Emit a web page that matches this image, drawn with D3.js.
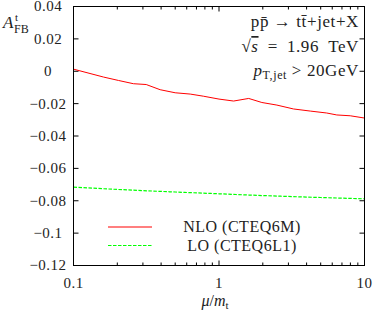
<!DOCTYPE html>
<html>
<head>
<meta charset="utf-8">
<script src="https://cdn.jsdelivr.net/npm/d3@7"></script>
<style>
body { margin: 0; background: #fff; }
svg text { font-family: "Liberation Serif", serif; fill: #222; }
</style>
</head>
<body>
<svg id="chart" width="374" height="312"></svg>
<script>
// scale values mu/m_t
var nloMu = [0.1, 0.161, 0.204, 0.258, 0.316, 0.394, 0.5, 0.634, 0.78, 1.0, 1.26, 1.6, 1.97, 2.5, 3.25, 4.24, 5.5, 6.45, 7.98, 10];
var nloAfb = [0.0013, -0.0036, -0.0057, -0.0077, -0.0082, -0.0114, -0.0133, -0.0141, -0.0154, -0.0172, -0.0184, -0.0168, -0.0193, -0.0209, -0.0233, -0.0246, -0.0258, -0.0270, -0.0275, -0.0289];

var loMu = [0.1, 0.2, 0.5, 1, 2, 5, 10];
var loAfb = [-0.0716, -0.0730, -0.0746, -0.0757, -0.0768, -0.0780, -0.0788];

var yTicks = [0.04, 0.02, 0, -0.02, -0.04, -0.06, -0.08, -0.1, -0.12];
var yTickLabels = ['0.04', '0.02', '0', '\u22120.02', '\u22120.04', '\u22120.06', '\u22120.08', '\u22120.1', '\u22120.12'];
var xTicks = [0.1, 1, 10];
var xTickLabels = ['0.1', '1', '10'];
var xMinor = [0.2, 0.3, 0.4, 0.5, 0.6, 0.7, 0.8, 0.9, 2, 3, 4, 5, 6, 7, 8, 9];

var pl = 73.5, pr = 364.5, pt = 6.5, pb = 265.5;
var svg = d3.select('#chart');

var x = d3.scaleLog().domain([0.1, 10]).range([pl, pr]);
var y = d3.scaleLinear().domain([-0.12, 0.04]).range([pb, pt]);

// ticks on all four sides, pointing in
function tickLines(g, vals, len, horiz)
{
    vals.forEach(function(v)
    {
        if (horiz)
        {
            g.append('line').attr('x1', x(v)).attr('x2', x(v)).attr('y1', pb).attr('y2', pb - len);
            g.append('line').attr('x1', x(v)).attr('x2', x(v)).attr('y1', pt).attr('y2', pt + len);
        }
        else
        {
            g.append('line').attr('y1', y(v)).attr('y2', y(v)).attr('x1', pl).attr('x2', pl + len);
            g.append('line').attr('y1', y(v)).attr('y2', y(v)).attr('x1', pr).attr('x2', pr - len);
        }
    });
}
var tg = svg.append('g').attr('stroke', '#000').attr('stroke-width', 1);
tickLines(tg, yTicks, 5, false);
tickLines(tg, xTicks, 5, true);
tickLines(tg, xMinor, 3, true);

// tick labels
svg.selectAll('.ylab').data(yTicks).enter().append('text')
    .attr('x', 48).attr('y', function(d){ return y(d); })
    .attr('dy', '0.33em').attr('text-anchor', 'middle')
    .style('font-size', '15px').style('letter-spacing', '0.5px')
    .text(function(d, i){ return yTickLabels[i]; });

svg.selectAll('.xlab').data(xTicks).enter().append('text')
    .attr('x', function(d){ return x(d); }).attr('y', 288)
    .attr('text-anchor', 'middle')
    .style('font-size', '15px').style('letter-spacing', '0.5px')
    .text(function(d, i){ return xTickLabels[i]; });

// axis titles
var xt = svg.append('text').attr('x', 215).attr('y', 306).attr('text-anchor', 'middle')
    .style('font-size', '16px');
xt.append('tspan').attr('font-style', 'italic').text('\u03bc');
xt.append('tspan').text('/');
xt.append('tspan').attr('font-style', 'italic').text('m');
xt.append('tspan').attr('dy', 3).style('font-size', '11px').text('t');

svg.append('text').attr('x', 3).attr('y', 28).attr('font-style', 'italic')
    .style('font-size', '17px').text('A');
svg.append('text').attr('x', 15).attr('y', 21).style('font-size', '11px').text('t');
svg.append('text').attr('x', 14).attr('y', 33).style('font-size', '12px').text('FB');

// curves
var line = d3.line()
    .x(function(d){ return x(d[0]); })
    .y(function(d){ return y(d[1]); });

svg.append('path').datum(d3.zip(nloMu, nloAfb))
    .attr('d', line).attr('fill', 'none').attr('stroke', '#ff0000').attr('stroke-width', 1);
svg.append('path').datum(d3.zip(loMu, loAfb))
    .attr('d', line.curve(d3.curveMonotoneX)).attr('fill', 'none').attr('stroke', '#00ff00')
    .attr('stroke-width', 1.2).attr('stroke-dasharray', '3.5,1.5');

// frame
svg.append('rect').attr('x', pl).attr('y', pt).attr('width', pr - pl).attr('height', pb - pt)
    .attr('fill', 'none').attr('stroke', '#000').attr('stroke-width', 1);

// process annotation
function annText(yy)
{
    return svg.append('text').attr('x', 359).attr('y', yy).attr('text-anchor', 'end')
        .style('font-size', '17px').style('letter-spacing', '0.6px');
}
annText(27).text('p\u0070\u0304 \u2192 tt\u0304+jet+X');
var t2 = annText(52);
t2.append('tspan').text('\u221a');
t2.append('tspan').attr('font-style', 'italic').style('text-decoration', 'overline').text('s');
t2.append('tspan').text('\u2002=\u20021.96\u2002TeV');
var t3 = annText(76);
t3.append('tspan').attr('font-style', 'italic').text('p');
t3.append('tspan').attr('dy', 3).style('font-size', '12px').text('T,jet');
t3.append('tspan').attr('dy', -3).text(' > 20GeV');

// legend
var legend = [
    {name: 'NLO (CTEQ6M)', color: '#ff0000', dash: null, y: 227},
    {name: 'LO (CTEQ6L1)', color: '#00ff00', dash: '3.5,1.5', y: 245.5}
];
var lg = svg.selectAll('.leg').data(legend).enter().append('g');
lg.append('line').attr('x1', 108).attr('x2', 152)
    .attr('y1', function(d){ return d.y; }).attr('y2', function(d){ return d.y; })
    .attr('stroke', function(d){ return d.color; }).attr('stroke-width', 1.2)
    .attr('stroke-dasharray', function(d){ return d.dash; });
lg.append('text').attr('x', 242).attr('y', function(d){ return d.y + 5; })
    .attr('text-anchor', 'middle')
    .style('font-size', '16px').style('letter-spacing', '0.5px')
    .text(function(d){ return d.name; });
</script>
</body>
</html>
